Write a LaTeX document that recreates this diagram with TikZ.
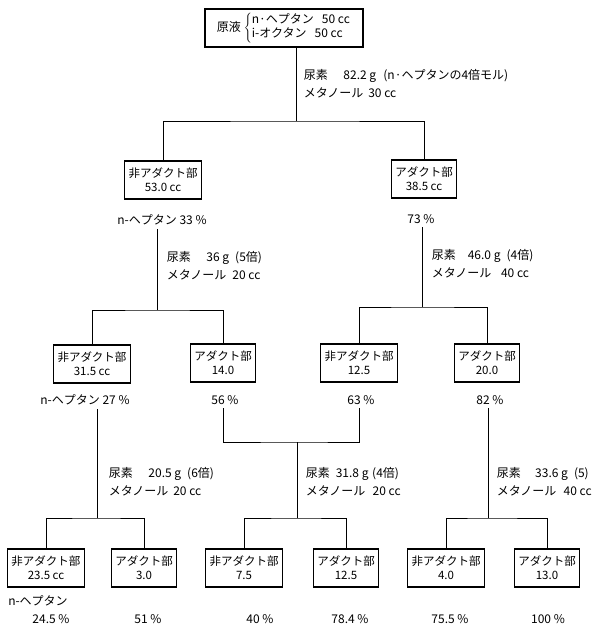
\documentclass[tikz,border=0pt]{standalone}
\usepackage{fontspec}
\setmainfont{Noto Sans CJK JP}
\usepackage{tikz}

\begin{document}
\begin{tikzpicture}[x=1pt, y=-1pt, line width=1pt,
  box/.style={draw, line width=1.2pt, align=center, font=\fontsize{11.5}{14}\selectfont, inner xsep=4pt, inner ysep=3pt, minimum height=38pt},
  pct/.style={font=\fontsize{12}{14}\selectfont},
  note/.style={anchor=west, align=left, font=\fontsize{12}{18}\selectfont}]
  \useasboundingbox (0,0) rectangle (609,625);

  \node[box, minimum width=158pt, font=\fontsize{12}{14}\selectfont] (root) at (284,28) {原液\hspace{3pt}$\left\{\begin{tabular}{@{}l@{}}n·ヘプタン\hspace{8pt}50 cc\\ i-オクタン\hspace{8pt}50 cc\end{tabular}\right.$};
  \node[note] (ureaR) at (300,84) {尿素\hspace{1.3em}82.2 g\hspace{0.6em}(n·ヘプタンの4倍モル)\\ メタノール\hspace{0.4em}30 cc};

  \node[box] (A) at (163,180) {非アダクト部\\ 53.0 cc};
  \node[box] (B) at (424,179) {アダクト部\\ 38.5 cc};
  \node[pct] (pctA) at (162,220) {n-ヘプタン 33 \%};
  \node[pct] (pctB) at (421,219) {73 \%};
  \node[note] (ureaA) at (163,266) {尿素\hspace{1.3em}36 g\hspace{0.5em}(5倍)\\ メタノール\hspace{0.5em}20 cc};
  \node[note] (ureaB) at (428,264) {尿素\hspace{1em}46.0 g\hspace{0.5em}(4倍)\\ メタノール\hspace{0.8em}40 cc};

  \node[box] (C) at (92,364) {非アダクト部\\ 31.5 cc};
  \node[box] (D) at (223,363) {アダクト部\\ 14.0};
  \node[box] (E) at (359,363) {非アダクト部\\ 12.5};
  \node[box] (F) at (487,363) {アダクト部\\ 20.0};
  \node[pct] (pctC) at (85,400) {n-ヘプタン 27 \%};
  \node[pct] (pctD) at (225,400) {56 \%};
  \node[pct] (pctE) at (361,400) {63 \%};
  \node[pct] (pctF) at (490,400) {82 \%};
  \node[note] (ureaC) at (105,482) {尿素\hspace{1.3em}20.5 g\hspace{0.5em}(6倍)\\ メタノール\hspace{0.4em}20 cc};
  \node[note] (ureaM) at (302,482) {尿素\hspace{0.5em}31.8 g\hspace{0.3em}(4倍)\\ メタノール\hspace{0.6em}20 cc};
  \node[note] (ureaF) at (493,482) {尿素\hspace{1.2em}33.6 g\hspace{0.5em}(5)\\ メタノール\hspace{0.6em}40 cc};

  \node[box] (G) at (46,568) {非アダクト部\\ 23.5 cc};
  \node[box] (H) at (144,568) {アダクト部\\ 3.0};
  \node[box] (I) at (244,568) {非アダクト部\\ 7.5};
  \node[box] (J) at (346,568) {アダクト部\\ 12.5};
  \node[box] (K) at (446,568) {非アダクト部\\ 4.0};
  \node[box] (L) at (547,568) {アダクト部\\ 13.0};
  \node[pct] (pctG1) at (38,601) {n-ヘプタン};
  \node[pct] (pctG) at (51,619) {24.5 \%};
  \node[pct] (pctH) at (148,619) {51 \%};
  \node[pct] (pctI) at (260,619) {40 \%};
  \node[pct] (pctJ) at (350,619) {78.4 \%};
  \node[pct] (pctK) at (450,619) {75.5 \%};
  \node[pct] (pctL) at (548,619) {100 \%};

  \coordinate (r0) at (296,121);
  \coordinate (a1) at (157,310);
  \coordinate (b1) at (422,307);
  \coordinate (c1) at (97,518);
  \coordinate (m1) at (297,442);
  \coordinate (m2) at (297,518);
  \coordinate (f1) at (488,518);

  \draw (root.south -| r0) -- (r0);
  \draw (A.north) |- (r0) -| (B.north);
  \draw (pctA.south -| a1) -- (a1);
  \draw (C.north) |- (a1) -| (D.north);
  \draw (pctB.south -| b1) -- (b1);
  \draw (E.north) |- (b1) -| (F.north);
  \draw (pctC.south -| c1) -- (c1);
  \draw (G.north) |- (c1) -| (H.north);
  \draw (pctD.south -| D.south) |- (m1) -| (pctE.south -| E.south);
  \draw (m1) -- (m2);
  \draw (I.north) |- (m2) -| (J.north);
  \draw (pctF.south -| f1) -- (f1);
  \draw (K.north) |- (f1) -| (L.north);
\end{tikzpicture}
\end{document}
